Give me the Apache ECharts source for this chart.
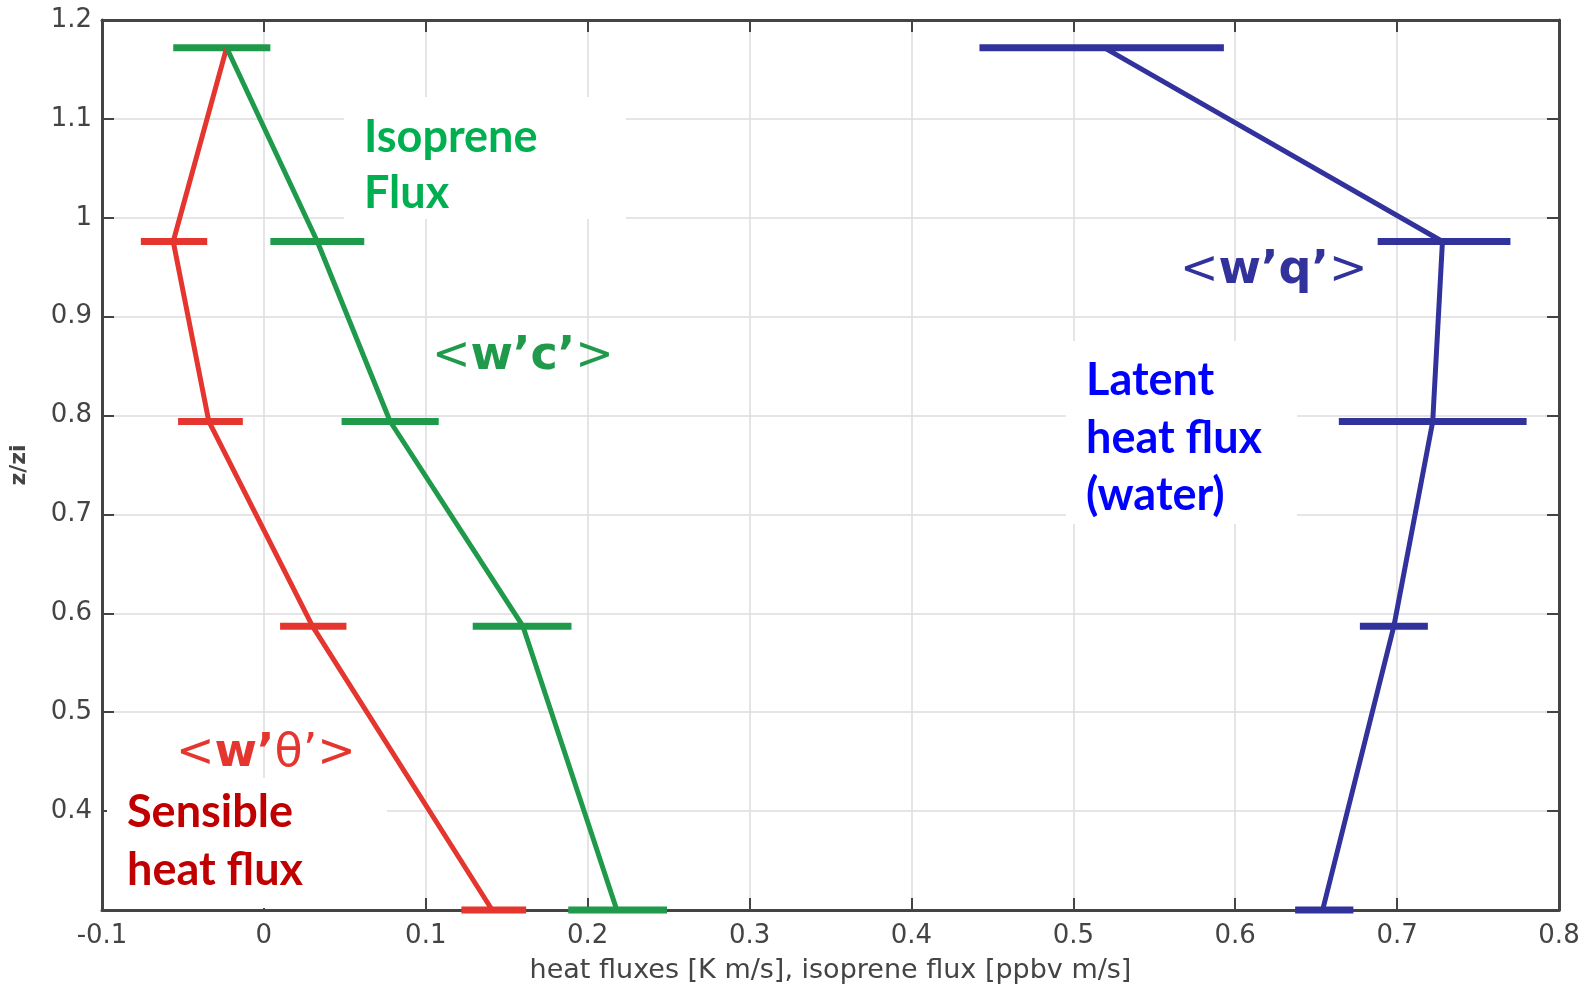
<!DOCTYPE html>
<html>
<head>
<meta charset="utf-8">
<script src="https://cdn.jsdelivr.net/npm/echarts@6/dist/echarts.min.js"></script>
<style>html,body{margin:0;padding:0;background:#fff}#c{width:1595px;height:988px}</style>
</head>
<body>
<div id="c"></div>
<script>
// heights z/zi of the profile levels
const levels = [1.172, 0.976, 0.794, 0.587, 0.3];
// sensible heat flux <w'theta'>
const sensible = [-0.023, -0.056, -0.034, 0.030, 0.141];
const sensibleLo = [null, -0.076, -0.053, 0.010, 0.122];
const sensibleHi = [null, -0.035, -0.013, 0.051, 0.162];
// isoprene flux <w'c'>
const isoprene = [-0.023, 0.033, 0.078, 0.160, 0.218];
const isopreneLo = [-0.056, 0.004, 0.048, 0.129, 0.188];
const isopreneHi = [0.004, 0.062, 0.108, 0.190, 0.249];
// latent heat flux <w'q'>
const latent = [0.519, 0.728, 0.722, 0.698, 0.654];
const latentLo = [0.442, 0.688, 0.664, 0.677, 0.637];
const latentHi = [0.593, 0.770, 0.780, 0.719, 0.673];

const xTicks = [-0.1, 0, 0.1, 0.2, 0.3, 0.4, 0.5, 0.6, 0.7, 0.8];
const yTicks = [0.4, 0.5, 0.6, 0.7, 0.8, 0.9, 1, 1.1, 1.2];

const RED = '#e5352f', GREEN = '#1f9a4b', BLUE = '#32329c';
const AXIS_FONT = '"DejaVu Sans", Arial, sans-serif';
const NOTE_FONT = 'Lato, "Open Sans", sans-serif';

function lineData(xs) { return xs.map((x, i) => [x, levels[i]]); }
function errData(lo, hi) {
  const out = [];
  lo.forEach((l, i) => { if (l != null) out.push([l, hi[i], levels[i]]); });
  return out;
}
function errSeries(lo, hi, color) {
  return {
    type: 'custom',
    data: errData(lo, hi),
    encode: { x: [0, 1], y: 2 },
    z: 3,
    renderItem: function (params, api) {
      const a = api.coord([api.value(0), api.value(2)]);
      const b = api.coord([api.value(1), api.value(2)]);
      return { type: 'line', shape: { x1: a[0], y1: a[1], x2: b[0], y2: b[1] },
        style: { stroke: color, lineWidth: 7 } };
    }
  };
}
function lineSeries(xs, color) {
  return { type: 'line', data: lineData(xs), symbol: 'none', z: 4,
    lineStyle: { color: color, width: 5 } };
}
function fmt(v) { return String(Math.round(v * 10) / 10); }

const tickLabel = { color: '#444', fontSize: 26, fontFamily: AXIS_FONT };
const frameLine = { show: true, onZero: false, lineStyle: { color: '#444', width: 3 } };
const frameTick = { show: true, inside: true, length: 12, lineStyle: { color: '#444', width: 2 } };

function tag(x, y, parts, color) {
  const rich = {
    a: { fill: color, fontSize: 46, fontFamily: AXIS_FONT },
    b: { fill: color, fontSize: 46, fontWeight: 'bold', fontFamily: AXIS_FONT }
  };
  return { type: 'text', x: x, y: y, z: 11, style: { text: parts, verticalAlign: 'middle', rich: rich } };
}
function note(x, y, text, color, lh) {
  return { type: 'text', x: x, y: y, z: 11, style: { text: text, fill: color,
    font: 'bold 45px ' + NOTE_FONT, lineHeight: lh, verticalAlign: 'top' } };
}

const chart = echarts.init(document.getElementById('c'));
chart.setOption({
  animation: false,
  backgroundColor: '#fff',
  grid: { left: 102, right: 36, top: 20, bottom: 78, containLabel: false, outerBoundsMode: 'none' },
  xAxis: [{
    type: 'value', min: -0.1, max: 0.8, interval: 0.1,
    name: 'heat fluxes [K m/s], isoprene flux [ppbv m/s]',
    nameLocation: 'middle', nameGap: 47,
    nameTextStyle: { color: '#444', fontSize: 27, fontFamily: AXIS_FONT },
    axisLine: frameLine, axisTick: frameTick,
    axisLabel: Object.assign({ margin: 13, formatter: v => xTicks.some(t => Math.abs(t - v) < 1e-6) ? fmt(v) : '' }, tickLabel),
    splitLine: { show: true, lineStyle: { color: '#dcdcdc', width: 1.5 } }
  }, {
    type: 'value', min: -0.1, max: 0.8, interval: 0.1, position: 'top',
    axisLine: frameLine, axisTick: frameTick,
    axisLabel: { show: false }, splitLine: { show: false }
  }],
  yAxis: [{
    type: 'value', min: 0.3, max: 1.2, interval: 0.1,
    name: 'z/zi', nameLocation: 'middle', nameGap: 72, nameRotate: 90,
    nameTextStyle: { color: '#444', fontSize: 22, fontWeight: 'bold', fontFamily: AXIS_FONT },
    axisLine: frameLine, axisTick: frameTick,
    axisLabel: Object.assign({ margin: 10, formatter: v => yTicks.some(t => Math.abs(t - v) < 1e-6) ? fmt(v) : '' }, tickLabel),
    splitLine: { show: true, lineStyle: { color: '#dcdcdc', width: 1.5 } }
  }, {
    type: 'value', min: 0.3, max: 1.2, interval: 0.1, position: 'right',
    axisLine: frameLine, axisTick: frameTick,
    axisLabel: { show: false }, splitLine: { show: false }
  }],
  series: [
    lineSeries(sensible, RED), errSeries(sensibleLo, sensibleHi, RED),
    lineSeries(isoprene, GREEN), errSeries(isopreneLo, isopreneHi, GREEN),
    lineSeries(latent, BLUE), errSeries(latentLo, latentHi, BLUE)
  ],
  graphic: [
    // white label boxes
    { type: 'rect', shape: { x: 344, y: 97, width: 282, height: 122 }, style: { fill: '#fff' }, z: 10 },
    note(364, 109, 'Isoprene\nFlux', '#00b050', 56),
    { type: 'rect', shape: { x: 1066, y: 341, width: 231, height: 183 }, style: { fill: '#fff' }, z: 10 },
    note(1086, 352, 'Latent\nheat flux\n(water)', '#0000ff', 57.5),
    { type: 'rect', shape: { x: 107, y: 778, width: 280, height: 130 }, style: { fill: '#fff' }, z: 10 },
    note(127, 783, 'Sensible\nheat flux', '#c00000', 58),
    // matlab-style series tags
    tag(432, 357, '{a|<}{b|w’c’}{a|>}', GREEN),
    tag(1180, 271, '{a|<}{b|w’q’}{a|>}', BLUE),
    tag(176, 754, '{a|<}{b|w’}{a|θ’>}', RED)
  ]
});
</script>
</body>
</html>
